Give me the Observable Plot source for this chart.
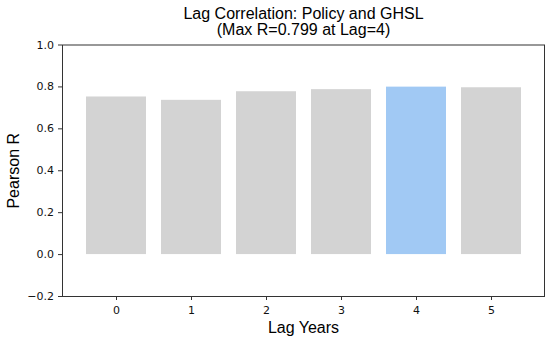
<!DOCTYPE html>
<html>
<head>
<meta charset="utf-8">
<script src="https://cdn.jsdelivr.net/npm/d3@7"></script>
<script src="https://cdn.jsdelivr.net/npm/@observablehq/plot@0.6"></script>
<style>
  html, body { margin: 0; padding: 0; background: #fff; }
  #chart svg { display: block; }
</style>
</head>
<body>
<div id="chart"></div>
<script>
const lags = [0, 1, 2, 3, 4, 5];
const rValues = [0.752, 0.736, 0.777, 0.787, 0.799, 0.796];
const yTicks = [-0.2, 0, 0.2, 0.4, 0.6, 0.8, 1.0];
const titleLines = ["Lag Correlation: Policy and GHSL", "(Max R=0.799 at Lag=4)"];
const xLabel = "Lag Years";
const yLabel = "Pearson R";
const maxLag = 4;

const data = lags.map((lag, i) => ({lag, r: rValues[i]}));
const labelFont = "'Liberation Sans', Arial, sans-serif";
const tickFont = "'DejaVu Sans', sans-serif";

const chart = Plot.plot({
  width: 550,
  height: 341,
  marginTop: 44.5,
  marginBottom: 45,
  marginLeft: 62,
  marginRight: 6,
  style: {fontFamily: tickFont, fontSize: "11px", color: "#111", background: "#fff"},
  x: {type: "band", domain: lags, paddingInner: 0.2, paddingOuter: 0.3, label: null},
  y: {domain: [-0.2, 1.0], label: null},
  marks: [
    Plot.barY(data, {x: "lag", y: "r", fill: d => d.lag === maxLag ? "#a1c9f4" : "#d3d3d3"}),
    Plot.axisX({ticks: lags, tickSize: 4, tickPadding: 5.5, label: null, stroke: "#333", fill: "#111", fontSize: 11, fontFamily: tickFont}),
    Plot.axisY({ticks: yTicks, tickSize: 4, tickPadding: 4.5, tickFormat: d3.format(".1f"), label: null, stroke: "#333", fill: "#111", fontSize: 11, fontFamily: tickFont}),
    Plot.frame({stroke: "#333", strokeWidth: 1}),
    Plot.text([titleLines.join("\n")], {text: d => d, frameAnchor: "top", lineAnchor: "middle", lineHeight: 1.0, dy: -23.5, fontSize: 16, fontFamily: labelFont, fill: "#000"}),
    Plot.text([xLabel], {text: d => d, frameAnchor: "bottom", lineAnchor: "middle", dy: 31, fontSize: 16, fontFamily: labelFont, fill: "#000"}),
    Plot.text([yLabel], {text: d => d, frameAnchor: "left", lineAnchor: "middle", textAnchor: "middle", dx: -49, rotate: -90, fontSize: 16, fontFamily: labelFont, fill: "#000"})
  ]
});
document.getElementById("chart").appendChild(chart);
</script>
</body>
</html>
